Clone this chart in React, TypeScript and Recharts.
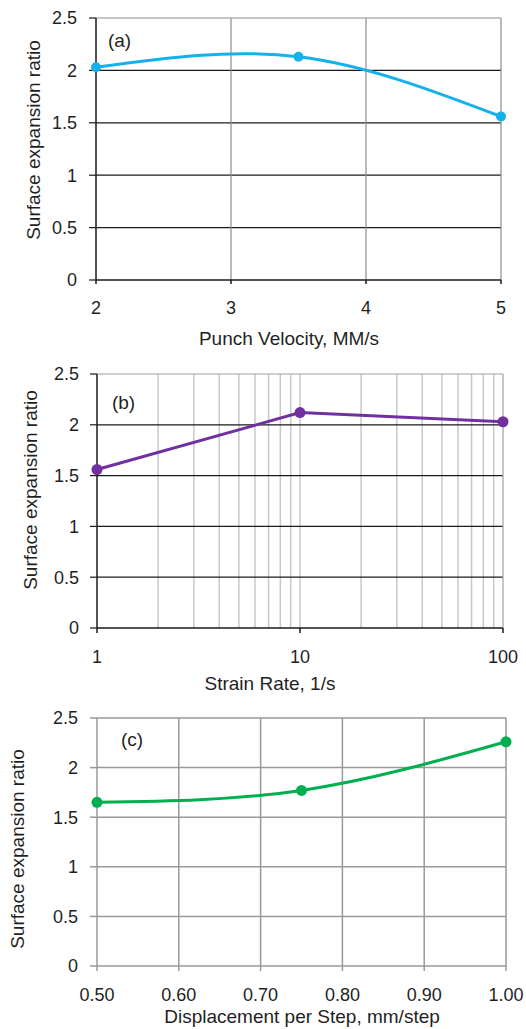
import { LineChart, Line, XAxis, YAxis, ReferenceLine } from "recharts";

// (a) punch velocity sweep
const velocity = [2, 3.5, 5];
const ratioA = [2.03, 2.13, 1.56];
// (b) strain rate sweep (log axis)
const strainRate = [1, 10, 100];
const ratioB = [1.56, 2.12, 2.03];
// (c) displacement per step sweep
const displacement = [0.5, 0.75, 1.0];
const ratioC = [1.65, 1.77, 2.26];

const ratioTicks = [0, 0.5, 1, 1.5, 2, 2.5];
const ratioGrid = [0.5, 1, 1.5, 2];
const velocityTicks = [2, 3, 4, 5];
const strainTicks = [1, 10, 100];
const strainMinor = [2, 3, 4, 5, 6, 7, 8, 9, 20, 30, 40, 50, 60, 70, 80, 90];
const displacementTicks = [0.5, 0.6, 0.7, 0.8, 0.9, 1.0];

const FONT = '"Liberation Sans", Arial, sans-serif';
const Y_TITLE = "Surface expansion ratio";
const TEXT = "#1f1f1f";
const FS = 18;
const TITLE_FS = 19;

const toRows = (xs: number[], ys: number[]) => xs.map((x, i) => ({ x, y: ys[i] }));

const tick = { fontSize: FS, fill: TEXT };

function YTitle({ x, y }: { x: number; y: number }) {
  return (
    <text transform={`translate(${x},${y}) rotate(-90)`} textAnchor="middle" fontSize={TITLE_FS} fill={TEXT}>
      {Y_TITLE}
    </text>
  );
}

function Caption({ x, y, children }: { x: number; y: number; children: string }) {
  return (
    <text x={x} y={y} textAnchor="middle" fontSize={TITLE_FS} fill={TEXT}>
      {children}
    </text>
  );
}

function PanelA() {
  const axis = "#1a1a1a";
  const grid = "#8c8c8c";
  return (
    <LineChart width={526} height={360} data={toRows(velocity, ratioA)}
      margin={{ top: 18, right: 25, bottom: 50, left: 36 }}>
      {ratioGrid.map(v => <ReferenceLine key={`h${v}`} y={v} stroke={axis} strokeWidth={1.2} />)}
      {[3, 4].map(v => <ReferenceLine key={`v${v}`} x={v} stroke={grid} strokeWidth={1.2} />)}
      <ReferenceLine y={2.5} stroke={grid} strokeWidth={1.2} />
      <ReferenceLine x={5} stroke={grid} strokeWidth={1.2} />
      <XAxis dataKey="x" type="number" domain={[2, 5]} ticks={velocityTicks} height={30}
        tick={tick} tickSize={4} tickMargin={17} axisLine={{ stroke: axis, strokeWidth: 1.5 }}
        tickLine={{ stroke: axis, strokeWidth: 1.5 }} />
      <YAxis type="number" domain={[0, 2.5]} ticks={ratioTicks} width={60}
        tick={tick} tickSize={7} tickMargin={12} axisLine={{ stroke: axis, strokeWidth: 1.5 }}
        tickLine={{ stroke: axis, strokeWidth: 1.2 }} />
      <Line dataKey="y" type="natural" stroke="#14b1ec" strokeWidth={3}
        dot={{ r: 5, fill: "#14b1ec", stroke: "#14b1ec", strokeWidth: 0 }} isAnimationActive={false} />
      <YTitle x={40} y={140} />
      <Caption x={289} y={345}>Punch Velocity, MM/s</Caption>
      <Caption x={119.5} y={47}>(a)</Caption>
    </LineChart>
  );
}

function PanelB() {
  const axis = "#1a1a1a";
  const border = "#a0a0a0";
  const minor = "#c8c8c8";
  return (
    <LineChart width={526} height={340} data={toRows(strainRate, ratioB)}
      margin={{ top: 14, right: 23, bottom: 42, left: 37 }}>
      {strainMinor.map(v => <ReferenceLine key={`v${v}`} x={v} stroke={minor} strokeWidth={1.5} />)}
      <ReferenceLine x={10} stroke={minor} strokeWidth={1.5} />
      {ratioGrid.map(v => <ReferenceLine key={`h${v}`} y={v} stroke={axis} strokeWidth={1.2} />)}
      <ReferenceLine y={2.5} stroke={border} strokeWidth={1.2} />
      <ReferenceLine x={100} stroke={border} strokeWidth={1.2} />
      <XAxis dataKey="x" type="number" scale="log" domain={[1, 100]} ticks={strainTicks} height={30}
        tick={tick} tickSize={5} tickMargin={17} axisLine={{ stroke: axis, strokeWidth: 1.5 }}
        tickLine={{ stroke: axis, strokeWidth: 1.5 }} />
      <YAxis type="number" domain={[0, 2.5]} ticks={ratioTicks} width={60}
        tick={tick} tickSize={7} tickMargin={11} axisLine={{ stroke: axis, strokeWidth: 1.5 }}
        tickLine={{ stroke: axis, strokeWidth: 1.2 }} />
      <Line dataKey="y" type="linear" stroke="#7030a0" strokeWidth={3}
        dot={{ r: 5.5, fill: "#7030a0", stroke: "#7030a0", strokeWidth: 0 }} isAnimationActive={false} />
      <YTitle x={37} y={130} />
      <Caption x={270} y={330}>Strain Rate, 1/s</Caption>
      <Caption x={123.5} y={49}>(b)</Caption>
    </LineChart>
  );
}

function PanelC() {
  const grid = "#999999";
  return (
    <LineChart width={526} height={329} data={toRows(displacement, ratioC)}
      margin={{ top: 18, right: 20, bottom: 33, left: 37 }}>
      {ratioGrid.map(v => <ReferenceLine key={`h${v}`} y={v} stroke={grid} strokeWidth={1.5} />)}
      {[0.6, 0.7, 0.8, 0.9].map(v => <ReferenceLine key={`v${v}`} x={v} stroke={grid} strokeWidth={1.5} />)}
      <ReferenceLine y={2.5} stroke={grid} strokeWidth={1.5} />
      <ReferenceLine x={1.0} stroke={grid} strokeWidth={1.5} />
      <XAxis dataKey="x" type="number" domain={[0.5, 1.0]} ticks={displacementTicks} height={30}
        tickFormatter={v => v.toFixed(2)}
        tick={tick} tickSize={5} tickMargin={17} axisLine={{ stroke: grid, strokeWidth: 1.5 }}
        tickLine={{ stroke: grid, strokeWidth: 1.5 }} />
      <YAxis type="number" domain={[0, 2.5]} ticks={ratioTicks} width={60}
        tick={tick} tickSize={7} tickMargin={12} axisLine={{ stroke: grid, strokeWidth: 1.5 }}
        tickLine={{ stroke: grid, strokeWidth: 1.5 }} />
      <Line dataKey="y" type="natural" stroke="#00b050" strokeWidth={3}
        dot={{ r: 5.5, fill: "#00b050", stroke: "#00b050", strokeWidth: 0 }} isAnimationActive={false} />
      <YTitle x={24} y={149} />
      <Caption x={302} y={323}>Displacement per Step, mm/step</Caption>
      <Caption x={132} y={46}>(c)</Caption>
    </LineChart>
  );
}

export default function App() {
  return (
    <div style={{ position: "absolute", left: 0, top: 0, width: 526, height: 1029, background: "#fff", fontFamily: FONT, overflow: "hidden" }}>
      <div style={{ position: "absolute", left: 0, top: 0 }}><PanelA /></div>
      <div style={{ position: "absolute", left: 0, top: 360 }}><PanelB /></div>
      <div style={{ position: "absolute", left: 0, top: 700 }}><PanelC /></div>
    </div>
  );
}
